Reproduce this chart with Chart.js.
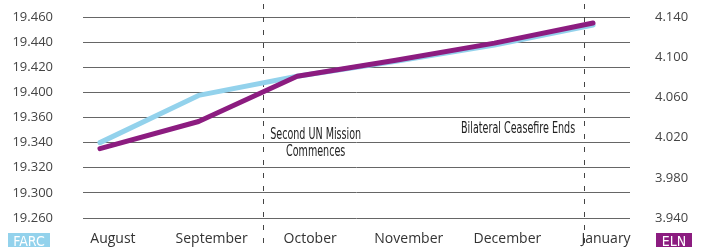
<!DOCTYPE html>
<html><head><meta charset="utf-8">
<script src="https://cdn.jsdelivr.net/npm/chart.js@4"></script>
<style>html,body{margin:0;padding:0;background:#fff;overflow:hidden}#wrap{width:703px;height:247px;position:relative}</style>
</head><body><div id="wrap"><canvas id="c" width="703" height="247"></canvas></div>
<script>
const months = ['August','September','October','November','December','January'];
const farc = [19.335, 19.382, 19.401, 19.416, 19.432, 19.452];
const eln = [4.009, 4.036, 4.081, 4.097, 4.114, 4.134];
const leftTickValues = [19.260, 19.285, 19.310, 19.335, 19.360, 19.385, 19.410, 19.435, 19.460];
const leftTickLabels = ['19.260','19.300','19.320','19.340','19.360','19.400','19.420','19.440','19.460'];
const rightTickValues = [3.94, 3.98, 4.02, 4.06, 4.10, 4.14];
const rightTickLabels = ['3.940','3.980','4.020','4.060','4.100','4.140'];
const eventPositions = [1.65, 4.91];
const eventTexts = [['Second UN Mission','Commences'], ['Bilateral Ceasefire Ends']];
const seriesNames = ['FARC','ELN'];

const BLUE = '#93d2ec', PURPLE = '#8c1c80';
const TICK_FONT = {family:'"Open Sans", sans-serif', size:13};
const NARROW = '"Liberation Sans Narrow", "DejaVu Sans Condensed", "Roboto Condensed", sans-serif';

const overlay = {
  id:'overlay',
  beforeDatasetsDraw(chart){
    const ctx = chart.ctx, xs = chart.scales.x;
    ctx.save();
    ctx.strokeStyle = '#444'; ctx.lineWidth = 1; ctx.setLineDash([5,8]);
    eventPositions.forEach(p=>{
      const x = Math.round(xs.getPixelForValue(p)) + 0.5;
      ctx.beginPath(); ctx.moveTo(x, 4); ctx.lineTo(x, 247); ctx.stroke();
    });
    ctx.restore();
  },
  afterDraw(chart){
    const ctx = chart.ctx, xs = chart.scales.x;
    ctx.save();
    ctx.fillStyle = '#222';
    ctx.textBaseline = 'middle';
    ctx.font = '15px ' + NARROW;
    const k = 91 / ctx.measureText(eventTexts[0][0]).width;
    const drawScaled = (txt, cx, cy, align) => {
      const w = ctx.measureText(txt).width * k;
      const left = align === 'center' ? cx - w/2 : (align === 'right' ? cx - w : cx);
      ctx.save(); ctx.translate(left, cy); ctx.scale(k,1); ctx.textAlign='left'; ctx.fillText(txt, 0, 0); ctx.restore();
    };
    const x1 = xs.getPixelForValue(eventPositions[0]);
    const c1 = x1 + 53;
    drawScaled(eventTexts[0][0], c1, 135, 'center');
    drawScaled(eventTexts[0][1], c1, 152, 'center');
    const x2 = xs.getPixelForValue(eventPositions[1]);
    drawScaled(eventTexts[1][0], x2 - 9, 129, 'right');
    // legend boxes
    ctx.fillStyle = BLUE; ctx.fillRect(8, 233, 42, 16);
    ctx.fillStyle = PURPLE; ctx.fillRect(656, 233, 36, 16);
    ctx.fillStyle = '#fff';
    ctx.font = '14px ' + NARROW;
    ctx.textAlign = 'center'; ctx.textBaseline = 'middle';
    ctx.fillText(seriesNames[0], 29, 242);
    ctx.fillText(seriesNames[1], 674, 242);
    ctx.restore();
  }
};

new Chart(document.getElementById('c'), {
  type:'line',
  data:{
    datasets:[
      {label:seriesNames[1], data: eln.map((v,i)=>({x:i,y:v})), yAxisID:'yR', borderColor:PURPLE, borderWidth:5, pointRadius:0, tension:0, borderCapStyle:'round', borderJoinStyle:'round', order:0},
      {label:seriesNames[0], data: farc.map((v,i)=>({x:i,y:v})), yAxisID:'yL', borderColor:BLUE, borderWidth:5, pointRadius:0, tension:0, borderCapStyle:'round', borderJoinStyle:'round', order:1}
    ]
  },
  options:{
    responsive:false, animation:false, devicePixelRatio:1,
    layout:{padding:{top:17, left:0, right:0, bottom:0}},
    plugins:{legend:{display:false}, tooltip:{enabled:false}},
    scales:{
      x:{type:'linear', position:'bottom', min:-0.172, max:5.375,
        afterBuildTicks(s){ s.ticks = months.map((m,i)=>({value:i})); },
        afterFit(s){ s.height = 29; s.paddingLeft = 0; s.paddingRight = 0; },
        grid:{display:false, drawTicks:false}, border:{display:false},
        ticks:{callback:(v)=>months[v], autoSkip:false, maxRotation:0, labelOffset:13, padding:13, color:'#333', font:{family:'"Open Sans", sans-serif', size:14}}
      },
      yL:{type:'linear', position:'left', min:19.26, max:19.46,
        afterBuildTicks(s){ s.ticks = leftTickValues.map(v=>({value:v})); },
        afterFit(s){ s.width = 83; s.paddingTop = 0; s.paddingBottom = 0; },
        grid:{color:'#666', lineWidth:1, drawTicks:false}, border:{display:false},
        ticks:{callback:(v,i)=>leftTickLabels[i], padding:30, color:'#444', font:TICK_FONT}
      },
      yR:{type:'linear', position:'right', min:3.94, max:4.14,
        afterBuildTicks(s){ s.ticks = rightTickValues.map(v=>({value:v})); },
        afterFit(s){ s.width = 73; s.paddingTop = 0; s.paddingBottom = 0; },
        grid:{display:false, drawTicks:false}, border:{display:false},
        ticks:{callback:(v,i)=>rightTickLabels[i], padding:25, color:'#444', font:TICK_FONT}
      }
    }
  },
  plugins:[overlay]
});
</script></body></html>
